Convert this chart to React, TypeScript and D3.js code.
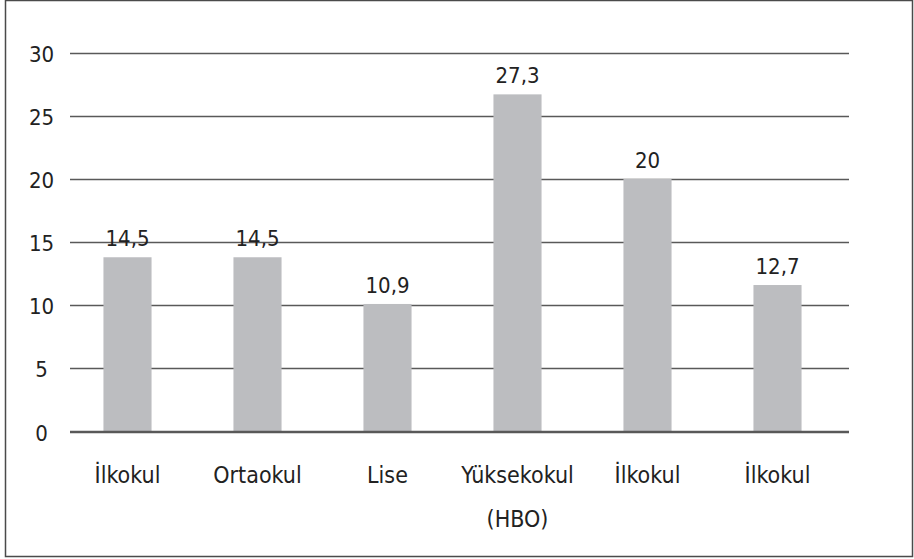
import React from 'react';
import * as d3 from 'd3';

const categories: string[][] = [
  ['İlkokul'],
  ['Ortaokul'],
  ['Lise'],
  ['Yüksekokul', '(HBO)'],
  ['İlkokul'],
  ['İlkokul'],
];
const barValues = [13.8, 13.8, 10.1, 26.7, 20.0, 11.6];
const valueLabels = ['14,5', '14,5', '10,9', '27,3', '20', '12,7'];
const yTicks = [0, 5, 10, 15, 20, 25, 30];

const W = 914;
const H = 559;
const numFont = '"DejaVu Sans Condensed", "DejaVu Sans", sans-serif';
const catFont = '"Liberation Sans Narrow", "DejaVu Sans Condensed", sans-serif';

export default function App() {
  const idx = categories.map((_, i) => String(i));
  const x = d3
    .scaleBand<string>()
    .domain(idx)
    .range([62.5, 842.5])
    .paddingInner(0.63)
    .paddingOuter(0.315);
  const y = d3.scaleLinear().domain([0, 30]).range([431.5, 52.7]);
  const gridX0 = 70;
  const gridX1 = 849;

  return (
    <div style={{ position: 'absolute', left: 0, top: 0 }}>
      <svg width={W} height={H} style={{ display: 'block', background: '#fff' }}>
        <rect x={5.5} y={0.5} width={907} height={556} fill="#fff" stroke="#4a4a4a" strokeWidth={1.5} />
        {yTicks.map((t) => (
          <g key={t}>
            <line
              x1={gridX0}
              x2={gridX1}
              y1={Math.round(y(t)) + 0.5}
              y2={Math.round(y(t)) + 0.5}
              stroke="#595959"
              strokeWidth={1.3}
            />
            <text
              x={41.5}
              y={y(t) + 9}
              textAnchor="middle"
              fontFamily={numFont}
              fontSize={22}
              fill="#222"
            >
              {t}
            </text>
          </g>
        ))}
        {barValues.map((v, i) => {
          const cx = (x(String(i)) as number) + x.bandwidth() / 2;
          return (
            <g key={i}>
              <rect
                x={x(String(i))}
                y={y(v)}
                width={x.bandwidth()}
                height={y(0) - y(v)}
                fill="#bcbdc0"
              />
              <text
                x={cx}
                y={y(v) - 11}
                textAnchor="middle"
                fontFamily={numFont}
                fontSize={22}
                fill="#222"
              >
                {valueLabels[i]}
              </text>
              {categories[i].map((line, j) => (
                <text
                  key={j}
                  x={cx}
                  y={483 + j * 44}
                  textAnchor="middle"
                  fontFamily={catFont}
                  fontSize={23}
                  fill="#222"
                >
                  {line}
                </text>
              ))}
            </g>
          );
        })}
        <line x1={gridX0} x2={gridX1} y1={431.5} y2={431.5} stroke="#595959" strokeWidth={1.3} />
      </svg>
    </div>
  );
}
